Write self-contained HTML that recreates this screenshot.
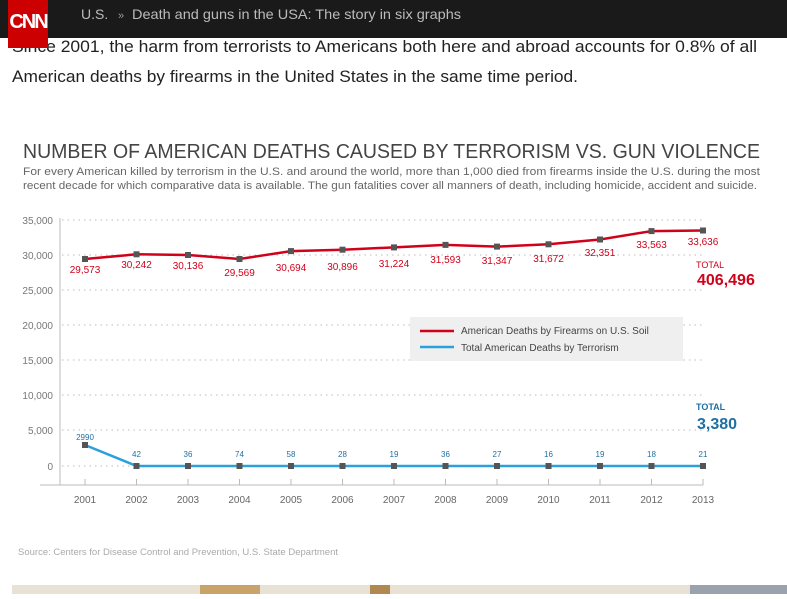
<!DOCTYPE html>
<html><head><meta charset="utf-8"><style>
body{margin:0;width:787px;height:594px;overflow:hidden;background:#fff;font-family:"Liberation Sans",sans-serif;}
</style></head><body>
<svg width="787" height="594" viewBox="0 0 787 594" xmlns="http://www.w3.org/2000/svg" font-family="Liberation Sans, sans-serif">
<rect x="0" y="0" width="787" height="594" fill="#fff"/>
<text x="12" y="52" font-size="17" fill="#222" textLength="745" lengthAdjust="spacingAndGlyphs">Since 2001, the harm from terrorists to Americans both here and abroad accounts for 0.8% of all</text>
<text x="12" y="82" font-size="17" fill="#222" textLength="566" lengthAdjust="spacingAndGlyphs">American deaths by firearms in the United States in the same time period.</text>
<rect x="0" y="0" width="787" height="38" fill="#1a1a1a"/>
<rect x="8" y="0" width="40" height="48" fill="#cc0000"/>
<text x="28" y="28" font-size="20" font-weight="bold" fill="#fff" text-anchor="middle" letter-spacing="-2">CNN</text>
<text x="81" y="19" font-size="14" fill="#bbb">U.S.</text>
<text x="118" y="19" font-size="11" fill="#999">»</text>
<text x="132" y="19" font-size="14" fill="#bbb" textLength="329" lengthAdjust="spacingAndGlyphs">Death and guns in the USA: The story in six graphs</text>
<text x="23" y="158" font-size="20" fill="#444" textLength="737" lengthAdjust="spacingAndGlyphs">NUMBER OF AMERICAN DEATHS CAUSED BY TERRORISM VS. GUN VIOLENCE</text>
<text x="23" y="175" font-size="11" fill="#666" textLength="737" lengthAdjust="spacingAndGlyphs">For every American killed by terrorism in the U.S. and around the world, more than 1,000 died from firearms inside the U.S. during the most</text>
<text x="23" y="189" font-size="11" fill="#666" textLength="734" lengthAdjust="spacingAndGlyphs">recent decade for which comparative data is available. The gun fatalities cover all manners of death, including homicide, accident and suicide.</text>
<g stroke="#bbb" stroke-width="1" stroke-dasharray="1.5,4">
<line x1="62" y1="220" x2="703" y2="220"/><line x1="62" y1="255" x2="703" y2="255"/><line x1="62" y1="290" x2="703" y2="290"/><line x1="62" y1="325" x2="703" y2="325"/><line x1="62" y1="360" x2="703" y2="360"/><line x1="62" y1="395" x2="703" y2="395"/><line x1="62" y1="430" x2="703" y2="430"/><line x1="62" y1="466" x2="703" y2="466"/>
</g>
<g font-size="10" fill="#777" text-anchor="end">
<text x="53" y="224">35,000</text><text x="53" y="259">30,000</text><text x="53" y="294">25,000</text><text x="53" y="329">20,000</text><text x="53" y="364">15,000</text><text x="53" y="399">10,000</text><text x="53" y="434">5,000</text><text x="53" y="470">0</text>
</g>
<line x1="60" y1="218" x2="60" y2="485" stroke="#bbb"/>
<line x1="40" y1="485" x2="703" y2="485" stroke="#bbb"/>
<g stroke="#bbb"><line x1="85" y1="479" x2="85" y2="485"/><line x1="136.5" y1="479" x2="136.5" y2="485"/><line x1="188" y1="479" x2="188" y2="485"/><line x1="239.5" y1="479" x2="239.5" y2="485"/><line x1="291" y1="479" x2="291" y2="485"/><line x1="342.5" y1="479" x2="342.5" y2="485"/><line x1="394" y1="479" x2="394" y2="485"/><line x1="445.5" y1="479" x2="445.5" y2="485"/><line x1="497" y1="479" x2="497" y2="485"/><line x1="548.5" y1="479" x2="548.5" y2="485"/><line x1="600" y1="479" x2="600" y2="485"/><line x1="651.5" y1="479" x2="651.5" y2="485"/><line x1="703" y1="479" x2="703" y2="485"/></g>
<g font-size="10" fill="#666" text-anchor="middle">
<text x="85" y="503">2001</text><text x="136.5" y="503">2002</text><text x="188" y="503">2003</text><text x="239.5" y="503">2004</text><text x="291" y="503">2005</text><text x="342.5" y="503">2006</text><text x="394" y="503">2007</text><text x="445.5" y="503">2008</text><text x="497" y="503">2009</text><text x="548.5" y="503">2010</text><text x="600" y="503">2011</text><text x="651.5" y="503">2012</text><text x="703" y="503">2013</text>
</g>
<polyline fill="none" stroke="#d0021b" stroke-width="2.5" points="85,259 136.5,254.3 188,255 239.5,259 291,251.1 342.5,249.7 394,247.4 445.5,244.9 497,246.6 548.5,244.3 600,239.5 651.5,231.1 703,230.5"/>
<g fill="#555"><rect x="82" y="256" width="6" height="6"/><rect x="133.5" y="251.3" width="6" height="6"/><rect x="185" y="252" width="6" height="6"/><rect x="236.5" y="256" width="6" height="6"/><rect x="288" y="248.1" width="6" height="6"/><rect x="339.5" y="246.7" width="6" height="6"/><rect x="391" y="244.4" width="6" height="6"/><rect x="442.5" y="241.9" width="6" height="6"/><rect x="494" y="243.6" width="6" height="6"/><rect x="545.5" y="241.3" width="6" height="6"/><rect x="597" y="236.5" width="6" height="6"/><rect x="648.5" y="228.1" width="6" height="6"/><rect x="700" y="227.5" width="6" height="6"/></g>
<g font-size="10" fill="#d0021b" text-anchor="middle">
<text x="85" y="273">29,573</text><text x="136.5" y="268">30,242</text><text x="188" y="269">30,136</text><text x="239.5" y="276">29,569</text><text x="291" y="271">30,694</text><text x="342.5" y="270">30,896</text><text x="394" y="267">31,224</text><text x="445.5" y="263">31,593</text><text x="497" y="264">31,347</text><text x="548.5" y="262">31,672</text><text x="600" y="256">32,351</text><text x="651.5" y="248">33,563</text><text x="703" y="245">33,636</text>
</g>
<polyline fill="none" stroke="#2aa0dc" stroke-width="2.5" points="85,445 136.5,466 703,466"/>
<g fill="#555"><rect x="82" y="442" width="6" height="6"/><rect x="133.5" y="463" width="6" height="6"/><rect x="185" y="463" width="6" height="6"/><rect x="236.5" y="463" width="6" height="6"/><rect x="288" y="463" width="6" height="6"/><rect x="339.5" y="463" width="6" height="6"/><rect x="391" y="463" width="6" height="6"/><rect x="442.5" y="463" width="6" height="6"/><rect x="494" y="463" width="6" height="6"/><rect x="545.5" y="463" width="6" height="6"/><rect x="597" y="463" width="6" height="6"/><rect x="648.5" y="463" width="6" height="6"/><rect x="700" y="463" width="6" height="6"/></g>
<g font-size="8" fill="#1f6fa3" text-anchor="middle">
<text x="85" y="440">2990</text><text x="136.5" y="457">42</text><text x="188" y="457">36</text><text x="239.5" y="457">74</text><text x="291" y="457">58</text><text x="342.5" y="457">28</text><text x="394" y="457">19</text><text x="445.5" y="457">36</text><text x="497" y="457">27</text><text x="548.5" y="457">16</text><text x="600" y="457">19</text><text x="651.5" y="457">18</text><text x="703" y="457">21</text>
</g>
<rect x="410" y="317" width="273" height="44" fill="#efefef"/>
<line x1="420" y1="331" x2="454" y2="331" stroke="#d0021b" stroke-width="2.5"/>
<line x1="420" y1="347" x2="454" y2="347" stroke="#2aa0dc" stroke-width="2.5"/>
<text x="461" y="334" font-size="10" fill="#444">American Deaths by Firearms on U.S. Soil</text>
<text x="461" y="351" font-size="10" fill="#444">Total American Deaths by Terrorism</text>
<text x="696" y="268" font-size="9" fill="#d0021b">TOTAL</text>
<text x="697" y="285" font-size="16" font-weight="bold" fill="#d0021b">406,496</text>
<text x="696" y="410" font-size="9" font-weight="bold" fill="#1f6fa3">TOTAL</text>
<text x="697" y="429" font-size="16" font-weight="bold" fill="#1f6fa3">3,380</text>
<text x="18" y="555" font-size="9" fill="#aaa" textLength="320" lengthAdjust="spacingAndGlyphs">Source: Centers for Disease Control and Prevention, U.S. State Department</text>
<rect x="12" y="585" width="775" height="9" fill="#e8e2d4"/>
<rect x="200" y="585" width="60" height="9" fill="#c9a46a"/>
<rect x="370" y="585" width="20" height="9" fill="#b08850"/>
<rect x="690" y="585" width="97" height="9" fill="#9aa3ad"/>
</svg>
</body></html>
